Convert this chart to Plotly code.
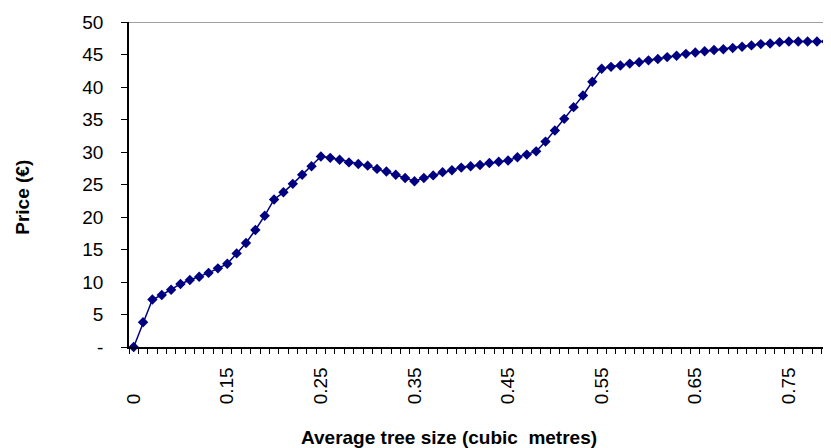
import plotly.graph_objects as go

# Average tree size categories (cubic metres)
sizes = ["0", "0.06", "0.07", "0.08", "0.09", "0.10", "0.11", "0.12", "0.13", "0.14",
         "0.15", "0.16", "0.17", "0.18", "0.19", "0.20", "0.21", "0.22", "0.23", "0.24",
         "0.25", "0.26", "0.27", "0.28", "0.29", "0.30", "0.31", "0.32", "0.33", "0.34",
         "0.35", "0.36", "0.37", "0.38", "0.39", "0.40", "0.41", "0.42", "0.43", "0.44",
         "0.45", "0.46", "0.47", "0.48", "0.49", "0.50", "0.51", "0.52", "0.53", "0.54",
         "0.55", "0.56", "0.57", "0.58", "0.59", "0.60", "0.61", "0.62", "0.63", "0.64",
         "0.65", "0.66", "0.67", "0.68", "0.69", "0.70", "0.71", "0.72", "0.73", "0.74",
         "0.75", "0.76", "0.77", "0.78", "0.79"]

# Price (EUR)
price = [0.0, 3.8, 7.3, 8.0, 8.8, 9.7, 10.3, 10.8, 11.4, 12.1,
         12.8, 14.4, 16.0, 18.0, 20.2, 22.7, 23.8, 25.1, 26.5, 27.8,
         29.3, 29.1, 28.8, 28.4, 28.15, 27.9, 27.4, 27.0, 26.5, 26.0,
         25.5, 26.0, 26.4, 26.9, 27.2, 27.6, 27.8, 28.0, 28.3, 28.5,
         28.7, 29.2, 29.6, 30.1, 31.6, 33.3, 35.1, 36.9, 38.7, 40.8,
         42.8, 43.1, 43.3, 43.6, 43.8, 44.1, 44.3, 44.6, 44.8, 45.1,
         45.3, 45.5, 45.7, 45.8, 46.0, 46.2, 46.4, 46.6, 46.7, 46.9,
         47.0, 47.0, 47.0, 47.0, 47.0]

x_tick_labels = ["0", "0.15", "0.25", "0.35", "0.45", "0.55", "0.65", "0.75"]
y_tick_vals = [0, 5, 10, 15, 20, 25, 30, 35, 40, 45, 50]
y_tick_text = ["-", "5", "10", "15", "20", "25", "30", "35", "40", "45", "50"]

FONT = "Arial, 'Liberation Sans', sans-serif"
NAVY = "#000080"

xpos = list(range(len(sizes)))
# rotated labels are bottom-aligned in the reference: pad short ones with no-break spaces
max_len = max(len(t) for t in x_tick_labels)
x_tick_text = [t + "\u00a0" * (2 * (max_len - len(t)) - 1 if len(t) < max_len else 0)
               for t in x_tick_labels]

fig = go.Figure()
fig.add_trace(go.Scatter(
    x=xpos, y=price, mode="lines+markers",
    line=dict(color=NAVY, width=1.5),
    marker=dict(symbol="diamond", size=8, color=NAVY),
    showlegend=False, hoverinfo="skip", cliponaxis=False,
))

fig.update_layout(
    width=823, height=440,
    margin=dict(l=121, r=0, t=14, b=101),
    paper_bgcolor="white", plot_bgcolor="white",
    font=dict(family=FONT, size=19, color="black"),
    xaxis=dict(
        range=[-0.5, len(sizes) - 0.5],
        tickmode="array",
        tickvals=[sizes.index(t) for t in x_tick_labels],
        ticktext=x_tick_text,
        tickangle=-90,
        ticks="",
        ticklabelstandoff=11,
        showgrid=False, zeroline=False,
        showline=True, linecolor="black", linewidth=1.5,
        minor=dict(ticks="outside", tick0=-0.5, dtick=1, ticklen=5,
                   tickcolor="black", tickwidth=1, showgrid=False),
        tickfont=dict(size=19),
    ),
    yaxis=dict(
        range=[0, 50],
        tickmode="array",
        tickvals=y_tick_vals,
        ticktext=y_tick_text,
        ticks="outside", ticklen=6, tickcolor="black", tickwidth=1,
        ticklabelstandoff=14,
        showgrid=False, zeroline=False,
        showline=True, linecolor="black", linewidth=1.5,
        tickfont=dict(size=19),
    ),
    shapes=[dict(type="line", xref="paper", yref="y", x0=0, x1=1, y0=50, y1=50,
                 line=dict(color="#808080", width=1.5))],
    annotations=[
        dict(text="<b>Price (€)</b>", xref="paper", yref="paper",
             x=-0.1528, y=0.4615, textangle=-90, showarrow=False,
             xanchor="center", yanchor="middle", font=dict(size=19, family=FONT)),
        dict(text="<b>Average tree size (cubic  metres)</b>", xref="paper", yref="paper",
             x=0.456, y=-0.277, showarrow=False,
             xanchor="center", yanchor="middle", font=dict(size=19, family=FONT)),
    ],
)

fig.write_html("out.html")
